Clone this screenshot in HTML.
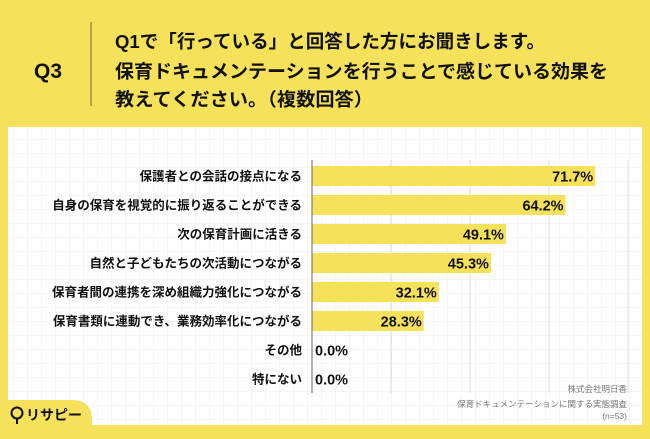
<!DOCTYPE html>
<html><head><meta charset="utf-8"><style>
body{margin:0;width:650px;height:434px;overflow:hidden;background:#f6e15b;font-family:"Liberation Sans","Noto Sans CJK JP",sans-serif;}
#root{position:relative;width:650px;height:434px;}
</style></head><body><div id="root">
<svg width="650" height="434" id="svg">
<defs><pattern id="g" width="14" height="14" patternUnits="userSpaceOnUse"><path d="M14 0V14H0" fill="none" stroke="#eeeeee" stroke-width="1"/></pattern></defs>
<rect x="8" y="127" width="634" height="298" fill="#fff"/>
<rect x="8" y="127" width="634" height="298" fill="url(#g)"/>
<text x="48" y="78" font-size="21" font-weight="bold" fill="#111" text-anchor="middle">Q3</text>
<line x1="91" y1="22" x2="91" y2="106" stroke="#8a7d2a" stroke-width="1.2"/>
<g font-size="18.5" font-weight="bold" fill="#111">
<text x="115" y="48" textLength="430" lengthAdjust="spacingAndGlyphs">Q1で「行っている」と回答した方にお聞きします。</text>
<text x="115" y="78" textLength="493" lengthAdjust="spacingAndGlyphs">保育ドキュメンテーションを行うことで感じている効果を</text>
<text x="115" y="106" textLength="258" lengthAdjust="spacingAndGlyphs">教えてください。（複数回答）</text>
</g>
<g id="grid"></g><g id="bars"></g>
<g font-size="8.5" fill="#777" text-anchor="end">
<text x="627" y="392">株式会社明日香</text>
<text x="627" y="407">保育ドキュメンテーションに関する実態調査</text>
<text x="627" y="419">(n=53)</text>
</g>
<path d="M0 400H72Q92 400 92 420V434H0Z" fill="#f6e15b"/>
<circle cx="17" cy="413" r="5.5" fill="none" stroke="#111" stroke-width="2"/><line x1="17" y1="419" x2="17" y2="424" stroke="#111" stroke-width="2"/>
<text x="26" y="420" font-size="14" font-weight="bold" fill="#111">リサピー</text>
</svg></div>
<script>
const categories=["保護者との会話の接点になる","自身の保育を視覚的に振り返ることができる","次の保育計画に活きる","自然と子どもたちの次活動につながる","保育者間の連携を深め組織力強化につながる","保育書類に連動でき、業務効率化につながる","その他","特にない"];
const values=[71.7,64.2,49.1,45.3,32.1,28.3,0.0,0.0];
const gridTicks=[20,40,60,80];
const NS="http://www.w3.org/2000/svg";
const x0=312,pxPer=3.95,y0=176,pitch=29;
const xs=v=>x0+v*pxPer, ys=i=>y0+i*pitch;
function mk(t,a,p){const e=document.createElementNS(NS,t);for(const k in a)e.setAttribute(k,a[k]);p.appendChild(e);return e;}
const grid=document.getElementById('grid'),bars=document.getElementById('bars');
gridTicks.forEach(t=>{const l=mk('line',{x1:xs(t),x2:xs(t),y1:160,y2:393,stroke:'#ddd','stroke-width':1},grid);

});
categories.forEach((c,i)=>{
 const y=ys(i);
 const lb=mk('text',{x:302,y:y+4.5,'font-size':12.5,'font-weight':'bold',fill:'#111','text-anchor':'end'},bars);lb.textContent=c;
 
 
 if(values[i]>0){const r=mk('rect',{x:x0,y:y-10,width:xs(values[i])-x0,height:20,fill:'#f6e15b'},bars);
 
 }
 const inside=values[i]>5;
 const vt=mk('text',{x:inside?xs(values[i])-2:x0+3,y:y+5.5,'font-size':14.5,'font-weight':'bold',fill:'#111','text-anchor':inside?'end':'start'},bars);
 vt.textContent=values[i].toFixed(1)+'%';
 
 
});
const ax=mk('line',{x1:x0,x2:x0,y1:160,y2:393,stroke:'#666','stroke-width':1},bars);


</script></body></html>
